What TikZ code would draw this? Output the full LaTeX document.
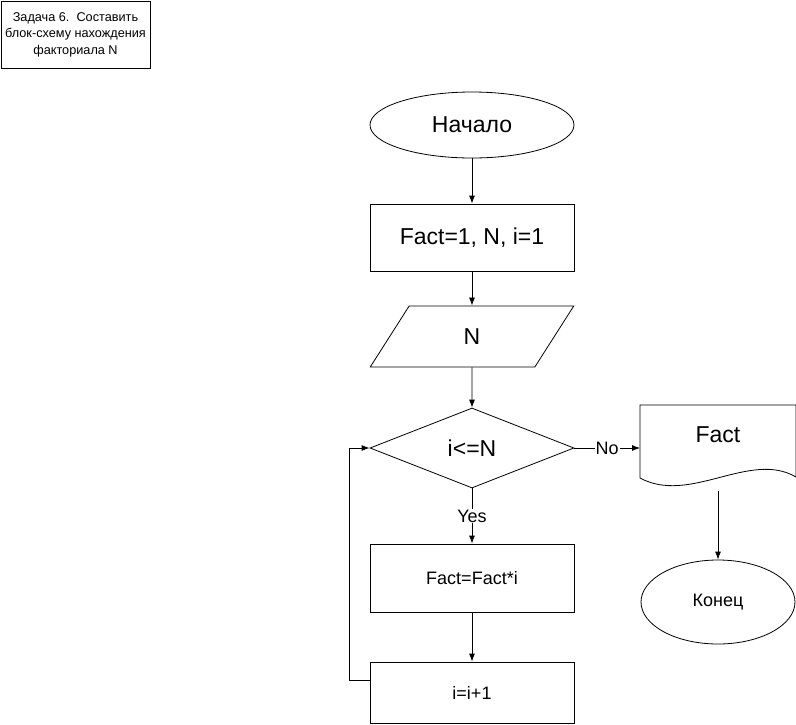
\documentclass[tikz,border=0pt]{standalone}
\usepackage{fontspec}
\setmainfont{Liberation Sans}
\usetikzlibrary{shapes.geometric,arrows.meta}
\tikzset{> = {Latex[length=8pt,width=6pt]}, every picture/.style={line width=0.8pt}}
\tikzset{big/.style={font=\fontsize{23}{27}\selectfont},
  small/.style={font=\fontsize{18}{21}\selectfont}}

\begin{document}
\begin{tikzpicture}[x=1pt,y=-1pt]
\useasboundingbox (0,0) rectangle (796,724);

\node (Task) [draw,minimum width=149pt,minimum height=67pt,inner sep=0pt,align=center,font=\fontsize{12.7}{16.5}\selectfont] at (75.5,34.5) {Задача 6.\ \ Составить\\блок-схему нахождения\\факториала N};

\begin{scope}[every node/.style={draw,minimum width=204pt,inner sep=0pt,big}]
\node (Start) [ellipse,minimum height=66pt] at (472,125) {Начало};
\node (Init) [rectangle,minimum height=67pt] at (472,237.5) {Fact=1, N, i=1};
\node (Input) [trapezium,trapezium left angle=72,trapezium right angle=108,trapezium stretches=true,minimum height=61pt] at (472,336.5) {N};
\node (Cond) [diamond,minimum height=80pt] at (472,448) {i<=N};
\node (Mult) [rectangle,minimum height=68pt,small] at (472,578) {Fact=Fact*i};
\node (Incr) [rectangle,minimum height=61pt,small] at (472,692.5) {i=i+1};
\end{scope}

% output document
\draw (640,405) -- (796,405) -- (796,477) .. controls (750,450) and (690,505) .. (640,478) -- cycle;
\node (Out) [big] at (718,435) {Fact};
\coordinate (OutL) at (640,448);
\coordinate (OutB) at (718,491);
\node (End) [draw,ellipse,minimum width=154pt,minimum height=84pt,inner sep=0pt,small] at (718,602) {Конец};

\begin{scope}[every edge/.style={draw}]
    \path [->] (Start) edge (Init);
    \path [->] (Init) edge (Input);
    \path [->] (Input) edge (Cond);
    \path [->] (Cond) edge node[fill=white,inner sep=1pt,small] {Yes} (Mult);
    \path [->] (Mult) edge (Incr);
    \path [->] (Cond) edge node[fill=white,inner sep=1pt,small] {No} (OutL);
    \path [->] (OutB) edge (End);
\end{scope}
\draw [->] ([yshift=12pt]Incr.west) -- ++(-20,0) |- (Cond.west);
\end{tikzpicture}
\end{document}
